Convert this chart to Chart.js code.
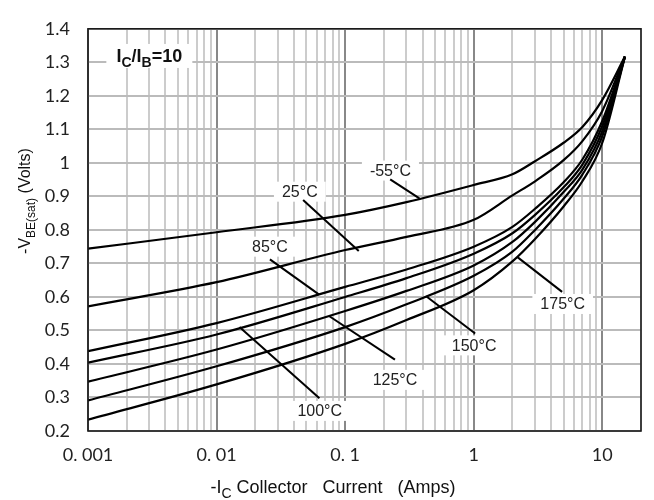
<!DOCTYPE html>
<html>
<head>
<meta charset="utf-8">
<script src="https://cdn.jsdelivr.net/npm/chart.js@4.4.0/dist/chart.umd.min.js"></script>
<style>
  html, body { margin: 0; padding: 0; background: #fff; }
</style>
</head>
<body>
<canvas id="vbeChart" width="654" height="500"></canvas>
<script>
/* ========= DATA ========= */
// collector current (Amps), read at these points for every curve
const currents = [0.001, 0.01, 0.1, 0.3, 1, 2, 3, 5, 7, 10, 15];

// -VBE(sat) in volts, one list per temperature
const vbeM55 = [0.744, 0.793, 0.845, 0.883, 0.934, 0.966, 1.005, 1.060, 1.107, 1.188, 1.317];
const vbe25  = [0.572, 0.644, 0.740, 0.779, 0.830, 0.903, 0.945, 1.008, 1.065, 1.155, 1.317];
const vbe85  = [0.438, 0.522, 0.630, 0.682, 0.750, 0.809, 0.863, 0.942, 1.010, 1.125, 1.317];
const vbe100 = [0.404, 0.488, 0.600, 0.656, 0.729, 0.790, 0.845, 0.927, 0.995, 1.110, 1.317];
const vbe125 = [0.347, 0.443, 0.558, 0.618, 0.694, 0.764, 0.824, 0.913, 0.980, 1.095, 1.317];
const vbe150 = [0.291, 0.393, 0.510, 0.578, 0.663, 0.735, 0.800, 0.893, 0.965, 1.080, 1.317];
const vbe175 = [0.234, 0.339, 0.460, 0.531, 0.620, 0.706, 0.773, 0.870, 0.945, 1.060, 1.317];

const seriesNames = ["-55°C", "25°C", "85°C", "100°C", "125°C", "150°C", "175°C"];
const seriesValues = [vbeM55, vbe25, vbe85, vbe100, vbe125, vbe150, vbe175];

// tick labels
const xTickLabels = ["0. 001", "0. 01", "0. 1", "1", "10"];
const yTickLabels = ["0.2", "0.3", "0.4", "0.5", "0.6", "0.7", "0.8", "0.9", "1", "1.1", "1.2", "1.3", "1.4"];

// curve labels: text centre and leader line, all in data units (Amps, Volts)
const notes = [
  { text: "-55°C", at: [0.225, 0.977],  from: [0.224, 0.951],  to: [0.378, 0.894] },
  { text: "25°C",  at: [0.0444, 0.914], from: [0.0471, 0.889], to: [0.1276, 0.737] },
  { text: "85°C",  at: [0.026, 0.75],   from: [0.026, 0.712],  to: [0.0628, 0.607] },
  { text: "100°C", at: [0.0634, 0.26],  from: [0.01507, 0.51], to: [0.0631, 0.298] },
  { text: "125°C", at: [0.244, 0.3525], from: [0.0749, 0.543], to: [0.244, 0.413] },
  { text: "150°C", at: [1.007, 0.4555], from: [0.4266, 0.602], to: [1.026, 0.491] },
  { text: "175°C", at: [4.92, 0.579],   from: [2.20, 0.718],   to: [4.87, 0.615] }
];

/* ========= HELPERS ========= */
const ARIAL = '"Liberation Sans", Arial, sans-serif';

function isDecade(v) {
  const lg = Math.log10(v);
  return Math.abs(lg - Math.round(lg)) < 1e-6;
}

// draw text made of runs, some of them subscript
function drawRuns(ctx, runs, x, y, size, bold) {
  const fontFor = r => (bold ? "bold " : "") + (r.sub ? Math.round(size * 0.78) : size) + "px " + ARIAL;
  let total = 0;
  runs.forEach(r => { ctx.font = fontFor(r); total += ctx.measureText(r.t).width; });
  let cx = x - total / 2;
  runs.forEach(r => {
    ctx.font = fontFor(r);
    ctx.fillText(r.t, cx, y + (r.sub ? size * 0.3 : 0));
    cx += ctx.measureText(r.t).width;
  });
  return total;
}

/* ========= ANNOTATION PLUGIN ========= */
const notesPlugin = {
  id: "notes",
  beforeDatasetsDraw(chart) {
    const { ctx, scales: { x, y } } = chart;
    ctx.save();
    ctx.fillStyle = "#fff";
    ctx.font = "16px " + ARIAL;
    notes.forEach(n => {
      const px = x.getPixelForValue(n.at[0]);
      const py = y.getPixelForValue(n.at[1]);
      const w = ctx.measureText(n.text).width + 16;
      ctx.fillRect(px - w / 2, py - 10, w, 20);
    });
    // box behind the IC/IB label
    ctx.fillRect(x.getPixelForValue(0.003) - 43, y.getPixelForValue(1.319) - 12, 86, 24);
    ctx.restore();
  },
  afterDatasetsDraw(chart) {
    const { ctx, chartArea: a, scales: { x, y } } = chart;
    ctx.save();

    // leader lines
    ctx.strokeStyle = "#000";
    ctx.lineWidth = 2;
    notes.forEach(n => {
      ctx.beginPath();
      ctx.moveTo(x.getPixelForValue(n.from[0]), y.getPixelForValue(n.from[1]));
      ctx.lineTo(x.getPixelForValue(n.to[0]), y.getPixelForValue(n.to[1]));
      ctx.stroke();
    });

    // curve labels
    ctx.fillStyle = "#222";
    ctx.font = "16px " + ARIAL;
    ctx.textAlign = "center";
    ctx.textBaseline = "middle";
    notes.forEach(n => {
      ctx.fillText(n.text, x.getPixelForValue(n.at[0]), y.getPixelForValue(n.at[1]) + 1);
    });

    // IC/IB=10
    ctx.textAlign = "left";
    ctx.textBaseline = "alphabetic";
    ctx.fillStyle = "#111";
    drawRuns(ctx, [{ t: "I" }, { t: "C", sub: true }, { t: "/I" }, { t: "B", sub: true }, { t: "=10" }],
      x.getPixelForValue(0.003), y.getPixelForValue(1.319) + 6, 18, true);

    // plot frame
    ctx.strokeStyle = "#1a1a1a";
    ctx.lineWidth = 1.6;
    ctx.strokeRect(a.left, a.top, a.right - a.left, a.bottom - a.top);

    // axis titles
    ctx.fillStyle = "#111";
    drawRuns(ctx, [{ t: "-I" }, { t: "C", sub: true }, { t: " Collector   Current   (Amps)" }],
      333, 493, 18, false);
    ctx.translate(30, 201);
    ctx.rotate(-Math.PI / 2);
    drawRuns(ctx, [{ t: "-V" }, { t: "BE(sat)", sub: true }, { t: " (Volts)" }], 0, 0, 16, false);

    ctx.restore();
  }
};

/* ========= CHART ========= */
const datasets = seriesNames.map((name, i) => ({
  label: name,
  data: currents.map((c, j) => ({ x: c, y: seriesValues[i][j] })),
  borderColor: "#000",
  borderWidth: 2.2,
  pointRadius: 0,
  fill: false,
  cubicInterpolationMode: "monotone"
}));

new Chart(document.getElementById("vbeChart"), {
  type: "line",
  data: { datasets },
  options: {
    responsive: false,
    animation: false,
    devicePixelRatio: 1,
    layout: { padding: { top: 14, right: 3, left: 0, bottom: 0 } },
    plugins: { legend: { display: false }, tooltip: { enabled: false } },
    scales: {
      x: {
        type: "logarithmic",
        min: 0.001,
        max: 20,
        border: { display: false },
        grid: {
          drawTicks: false,
          color: ctx => isDecade(ctx.tick.value) ? "#888888" : "#cccccc",
          lineWidth: 2
        },
        // 1..9 x 10^n gridlines over the whole range
        afterBuildTicks: s => {
          const t = [];
          for (let e = -3; e <= 1; e++) {
            for (let m = 1; m <= 9; m++) {
              const v = Number((m * Math.pow(10, e)).toPrecision(3));
              if (v <= 20) t.push({ value: v });
            }
          }
          t.push({ value: 20 });
          s.ticks = t;
        },
        ticks: {
          autoSkip: false,
          maxRotation: 0,
          padding: 13,
          color: "#222",
          font: { family: "Lato", size: 18 },
          callback: v => isDecade(v) ? (xTickLabels[Math.round(Math.log10(v)) + 3] || "") : ""
        },
        afterFit: s => { s.height = 69; }
      },
      y: {
        min: 0.2,
        max: 1.4,
        border: { display: false },
        grid: { drawTicks: false, color: "#bbbbbb", lineWidth: 2 },
        ticks: {
          stepSize: 0.1,
          padding: 18,
          color: "#222",
          font: { family: "Lato", size: 18 },
          callback: v => yTickLabels[Math.round(v * 10) - 2]
        },
        afterFit: s => { s.width = 88; }
      }
    }
  },
  plugins: [notesPlugin]
});
</script>
</body>
</html>
